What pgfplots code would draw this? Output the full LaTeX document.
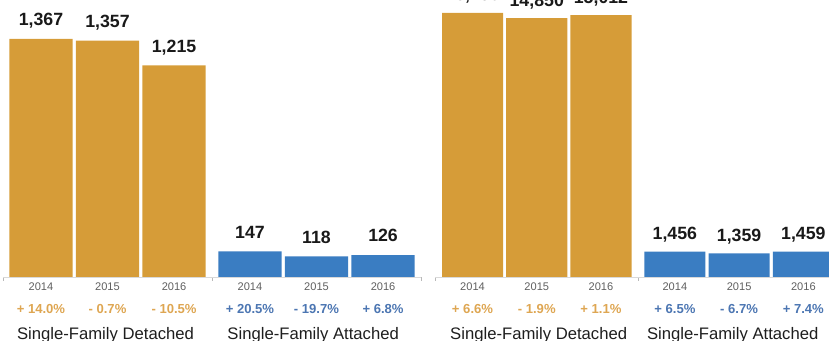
\documentclass[border=0pt]{standalone}
\usepackage{pgfplots}
\pgfplotsset{compat=1.18}
\usepackage{fontspec}
\setmainfont{Liberation Sans}
\definecolor{detc}{RGB}{214,156,56}
\definecolor{attc}{RGB}{58,125,194}
\definecolor{detp}{RGB}{222,166,82}
\definecolor{attp}{RGB}{76,118,178}
\definecolor{yrc}{RGB}{95,95,95}
\definecolor{catc}{RGB}{30,30,30}
\pgfplotsset{
  panel/.style={
    scale only axis, height=207.75pt, ymin=0, clip=false,
    axis x line=bottom, axis y line=none,
    x axis line style={-, draw=gray!30, line width=0.6pt},
    xticklabels={2014,2015,2016,2014,2015,2016},
    major tick length=0pt, minor tick length=3pt, tick align=outside,
    minor tick style={draw=gray!55, line width=0.6pt},
    every x tick label/.style={anchor=base, inner sep=0pt, yshift=-9.9pt,
      font=\fontsize{8.3}{10}\selectfont, text=yrc},
    extra x tick labels={Single-Family Detached, Single-Family Attached},
    extra x tick style={major tick length=0pt,
      every x tick label/.style={anchor=base, inner sep=0pt, yshift=-46.6pt,
      font=\fontsize{12.5}{14}\selectfont, text=catc}},
  },
  valbar/.style={ybar, bar width=0.95, bar shift=0pt, draw=none, fill=#1,
    nodes near coords={\pgfmathprintnumber[fixed,precision=0,1000 sep={,},assume math mode=true]{\pgfplotspointmeta}},
    nodes near coords style={anchor=base, inner sep=0pt, yshift=10pt,
      font=\bfseries\fontsize{13.3}{15}\selectfont, text=black!90}},
  pctbar/.style={ybar, bar width=0.95, bar shift=0pt, draw=none, fill=none,
    point meta=explicit symbolic, nodes near coords,
    nodes near coords style={anchor=base, inner sep=0pt, yshift=-27.5pt,
      font=\bfseries\fontsize{9.8}{12}\selectfont, text=#1}},
}
\begin{document}
\begin{tikzpicture}
\path[use as bounding box, clip] (0,0) rectangle (621.75pt,255.75pt);
% left panel
\begin{axis}[panel, at={(2.25pt,48pt)}, anchor=south west,
  width=313.5pt, xmin=-0.57, xmax=5.71, ymax=1591,
  xtick={0,1,2,3.14,4.14,5.14}, minor xtick={-0.57,2.57,5.71},
  extra x ticks={0.97,4.09}]
\addplot[valbar=detc] coordinates {(0,1367) (1,1357) (2,1215)};
\addplot[valbar=attc] coordinates {(3.14,147) (4.14,118) (5.14,126)};
\addplot[pctbar=detp] coordinates {(0,0) [+ 14.0\%] (1,0) [- 0.7\%] (2,0) [- 10.5\%]};
\addplot[pctbar=attp] coordinates {(3.14,0) [+ 20.5\%] (4.14,0) [- 19.7\%] (5.14,0) [+ 6.8\%]};
\end{axis}
% right panel
\begin{axis}[panel, at={(326.25pt,48pt)}, anchor=south west,
  width=304.4pt, xmin=-0.584, xmax=5.734, ymax=15883,
  xtick={0,1,2,3.15,4.15,5.15}, minor xtick={-0.584,2.575,5.734},
  extra x ticks={1.03,4.05}]
\addplot[valbar=detc, nodes near coords style={yshift=-1pt}] coordinates {(0,15138) (1,14850) (2,15012)};
\addplot[valbar=attc, nodes near coords style={yshift=-1pt}] coordinates {(3.15,1456) (4.15,1359) (5.15,1459)};
\addplot[pctbar=detp] coordinates {(0,0) [+ 6.6\%] (1,0) [- 1.9\%] (2,0) [+ 1.1\%]};
\addplot[pctbar=attp] coordinates {(3.15,0) [+ 6.5\%] (4.15,0) [- 6.7\%] (5.15,0) [+ 7.4\%]};
\end{axis}
\end{tikzpicture}
\end{document}
